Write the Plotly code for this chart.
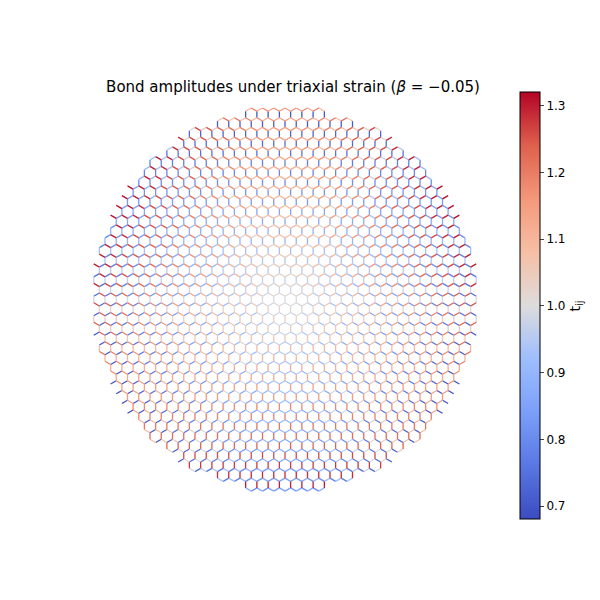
import numpy as np
import plotly.graph_objects as go

# lattice / strain parameters
beta = -0.05
radius = 30.0          # flake radius in units of bond length
t_min, t_max = 0.68, 1.32
cbar_ticks = [0.7, 0.8, 0.9, 1.0, 1.1, 1.2, 1.3]

coolwarm = [
    [0.0, "#3b4cc0"], [0.125, "#5977e3"], [0.25, "#7b9ff9"], [0.375, "#9ebeff"],
    [0.5, "#dddcdc"], [0.625, "#f6bfa6"], [0.75, "#f4987a"], [0.875, "#de604d"],
    [1.0, "#b40426"],
]

s3 = np.sqrt(3)
a1 = np.array([s3, 0.0])
a2 = np.array([s3 / 2, 1.5])
nbr = [np.array([0.0, 1.0]), np.array([-s3 / 2, -0.5]), np.array([s3 / 2, -0.5])]

bonds = []
N = 40
for i in range(-N, N + 1):
    for j in range(-N, N + 1):
        A = i * a1 + j * a2 - np.array([0, 0.5])
        if np.hypot(*A) > radius:
            continue
        for d in nbr:
            B = A + d
            if np.hypot(*B) > radius:
                continue
            x, y = (A + B) / 2
            exx, eyy, exy = y, -y, x
            s = d[0] ** 2 * exx + d[1] ** 2 * eyy + 2 * d[0] * d[1] * exy
            t = 1 + (-beta / 0.05) * 0.32 * s / radius
            bonds.append((A, B, t))

def interp_color(v):
    f = (v - t_min) / (t_max - t_min)
    f = min(max(f, 0), 1)
    for k in range(len(coolwarm) - 1):
        p0, c0 = coolwarm[k]
        p1, c1 = coolwarm[k + 1]
        if f <= p1:
            w = (f - p0) / (p1 - p0)
            r0, g0, b0 = [int(c0[m:m + 2], 16) for m in (1, 3, 5)]
            r1, g1, b1 = [int(c1[m:m + 2], 16) for m in (1, 3, 5)]
            return "rgb(%d,%d,%d)" % (r0 + w * (r1 - r0), g0 + w * (g1 - g0), b0 + w * (b1 - b0))
    return coolwarm[-1][1]

nbins = 48
groups = {}
for A, B, t in bonds:
    b = int(np.clip((t - t_min) / (t_max - t_min) * nbins, 0, nbins - 1))
    groups.setdefault(b, [[], []])
    groups[b][0] += [A[0], B[0], None]
    groups[b][1] += [A[1], B[1], None]

fig = go.Figure()
for b, (xs, ys) in sorted(groups.items()):
    tv = t_min + (b + 0.5) / nbins * (t_max - t_min)
    fig.add_trace(go.Scatter(x=xs, y=ys, mode="lines", hoverinfo="skip",
                             line=dict(color=interp_color(tv), width=1.3), showlegend=False))

fig.add_trace(go.Scatter(
    x=[None], y=[None], mode="markers", showlegend=False,
    marker=dict(color=[t_min], cmin=t_min, cmax=t_max, colorscale=coolwarm, showscale=True,
                colorbar=dict(x=1.057, xanchor="left", y=0.505, yanchor="middle", len=1.065,
                              thickness=20, outlinewidth=1, outlinecolor="black",
                              tickvals=cbar_ticks, tickformat=".1f",
                              ticks="outside", ticklen=4,
                              title=dict(text="t<sub>ij</sub>", side="right", font=dict(size=14)))),
))

fig.update_layout(
    width=600, height=600, plot_bgcolor="white", paper_bgcolor="white",
    margin=dict(l=75, r=105, t=90, b=90),
    font=dict(family="DejaVu Sans", size=12, color="black"),
    title=dict(text="Bond amplitudes under triaxial strain (<i>β</i> = −0.05)",
               x=0.475, xanchor="center", y=0.877, font=dict(size=15)),
    xaxis=dict(visible=False, range=[-31.1, 31.1]),
    yaxis=dict(visible=False, range=[-32.3, 29.7], scaleanchor="x", scaleratio=1),
)
fig.write_html("out.html")
